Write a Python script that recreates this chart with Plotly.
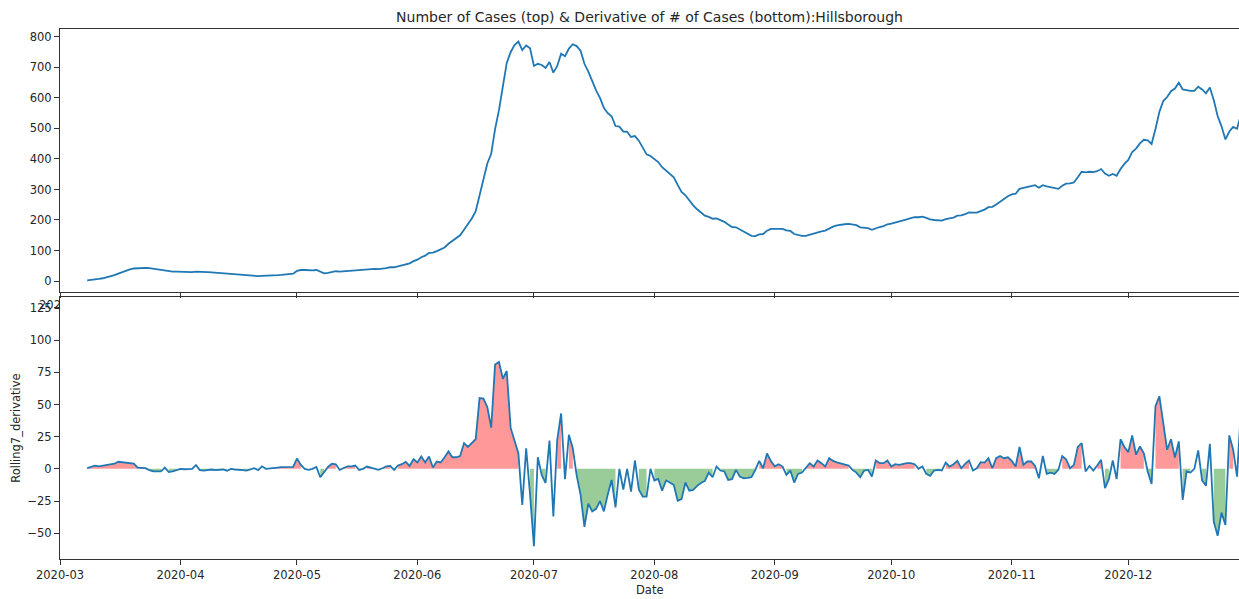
import pandas as pd
import plotly.graph_objects as go

# daily values from 2020-03-08 to 2020-12-30
cases_mar = [2, 3, 5, 7, 9, 12, 15, 19, 24, 29, 34, 38, 41, 42, 42, 43, 42, 40, 38, 36, 34, 33, 31, 31]
cases_apr = [30, 30, 29, 29, 31, 31, 30, 29, 28, 27, 26, 25, 24, 23, 22, 21, 20, 19, 17, 17,
             16, 17, 17, 18, 18, 19, 20, 21, 22, 24]
cases_may = [33, 36, 36, 35, 35, 36, 30, 25, 27, 30, 32, 31, 32, 34, 36, 37, 36, 37, 38, 39,
             40, 39, 40, 42, 45, 45, 48, 51, 55, 58, 65]
cases_jun = [70, 78, 83, 92, 93, 98, 103, 110, 122, 131, 140, 150, 168, 185, 205, 228, 283, 337, 385, 417,
             498, 560, 640, 715, 750, 773, 785, 757, 772, 763]
cases_jul = [705, 712, 708, 698, 718, 683, 705, 745, 737, 762, 776, 770, 755, 712, 686, 655, 625, 600, 568, 550,
             540, 508, 506, 490, 489, 472, 475, 460, 438, 415, 410]
cases_aug = [400, 390, 373, 363, 352, 340, 315, 292, 281, 264, 248, 235, 224, 214, 210, 204, 205, 199, 194, 185,
             177, 176, 169, 162, 155, 148, 147, 153, 154, 165, 171]
cases_sep = [171, 171, 171, 166, 164, 154, 151, 148, 148, 152, 154, 160, 163, 165, 172, 178, 182, 185, 186, 187,
             186, 183, 176, 175, 173, 168, 173, 177, 180, 186]
cases_oct = [188, 191, 194, 198, 202, 206, 209, 209, 211, 207, 202, 200, 199, 198, 203, 205, 208, 214, 215, 219,
             225, 224, 224, 229, 234, 242, 243, 251, 261, 269, 278]
cases_nov = [284, 286, 302, 305, 310, 313, 314, 306, 314, 310, 307, 303, 302, 312, 319, 320, 323, 340, 358, 356,
             358, 357, 360, 367, 352, 345, 351, 345, 367, 384]
cases_dec = [397, 423, 434, 451, 463, 461, 449, 498, 554, 590, 603, 622, 631, 650, 628, 626, 623, 623, 637, 628,
             615, 634, 593, 541, 507, 464, 490, 505, 499, 546]

deriv_mar = [0.5, 1.5, 2.5, 2, 2.5, 2.5, 3, 4, 5.5, 5, 5, 4.5, 4, 1, 0.5, 0.5, -1, -2, -2, -2, 1, -2.5, -2, -1]
deriv_apr = [0, -0.3, 0, 0, 3, -1, -1.3, -1, -0.5, -1, -0.5, -0.5, -1.5, 0, -0.5, -1, -1, -1.3, -0.5, 0.5,
             -1, 2, 0, 0.5, 1, 1, 1.3, 1.5, 1.3, 1.5]
deriv_may = [8, 3, 0, -0.8, 0, 1.5, -6.5, -2, 1.5, 4, 3.5, -0.8, 0.5, 2, 2, 2.6, -0.8, 0, 1.8, 1,
             0, -0.8, 0.5, 2, 2.3, -0.8, 2.6, 3.6, 5.5, 2.3, 7.5]
deriv_jun = [5, 9.6, 5, 9.6, 1, 5.7, 5, 9, 13.5, 9, 9, 10, 20, 17, 20, 23, 55, 54.5, 48, 32,
             81, 83, 70, 76, 32, 22, 12, -28, 16, -20]
deriv_jul = [-60, 9, -4.7, -11, 22, -37, 22.6, 43, -8, 26.5, 16, -5, -20, -45, -27, -33, -31, -25, -33, -20,
             -8.6, -30, 0, -16, 0, -17.7, 6.5, -16, -21.6, -21.6, 0]
deriv_aug = [-9, -7.8, -17, -9, -10.6, -12.5, -24.7, -23.4, -10.6, -17, -16.4, -13.2, -11, -9.4, -2.9, -6.5,
             1.8, -1.3, -2, -8.6, -8, -0.8, -6, -7.3, -7, -6.5, -0.8, 6.2, 0.5, 12, 6]
deriv_sep = [2, 3.6, 1.8, -4.7, -1.3, -10.6, -3.9, -2.9, 0.5, 4.4, 1.8, 6.5, 4.4, 1.8, 8.3, 6.2, 5, 4, 3, 2.6,
             -0.8, -2.9, -6.5, -1.3, -0.8, -6, 6.5, 4.4, 4.4, 6.5]
deriv_oct = [1.8, 3.6, 3.1, 3.9, 4.4, 4.4, 3.6, 0, 1.8, -3.9, -5.5, -1.3, -0.8, -1.3, 4.9, 1.8, 3.6, 6.2, 0.5,
             3.9, 6.5, -1.3, 0.5, 5.2, 4.9, 8.3, 0.5, 8.3, 10, 8.3, 9]
deriv_nov = [6.2, 1.8, 17, 3.1, 5.7, 5.7, 2.3, -7.3, 10, -3.9, -2.9, -3.9, -0.8, 10, 7.5, 0.5, 3.1, 17, 20, -2,
             2.3, -1.3, 2.6, 7, -15, -8, 6.5, -8, 23, 17]
deriv_dec = [13, 26, 11, 17.4, 12, -2, -11.7, 48.6, 56.4, 35.6, 14.8, 23, 8.8, 21.3, -24, -2, -2.9, 0, 14.3, -9,
             -13, 19.5, -41, -52, -34, -43.6, 26, 14.8, -6, 47]

cases = (cases_mar + cases_apr + cases_may + cases_jun + cases_jul + cases_aug
         + cases_sep + cases_oct + cases_nov + cases_dec)
deriv = (deriv_mar + deriv_apr + deriv_may + deriv_jun + deriv_jul + deriv_aug
         + deriv_sep + deriv_oct + deriv_nov + deriv_dec)
dates = pd.date_range("2020-03-08", periods=len(cases), freq="D")

BLUE = "#1f77b4"
AXIS = "#333333"
TEXT = "#262626"
X_RANGE = ["2020-03-01", "2020-12-29 12:00"]


def runs(values, keep):
    """Return lists of consecutive indices where keep(value) is true (like fill_between's where=)."""
    out, cur = [], []
    for i, v in enumerate(values):
        if keep(v):
            cur.append(i)
        elif cur:
            out.append(cur)
            cur = []
    if cur:
        out.append(cur)
    return out


fig = go.Figure()

# top: number of cases
fig.add_trace(go.Scatter(x=dates, y=cases, mode="lines", line=dict(color=BLUE, width=1.8),
                         xaxis="x", yaxis="y", showlegend=False))

# bottom: red fill where rising, green where falling, each stretch on its own
for keep, colour in [(lambda v: v > 0, "rgba(255,0,0,0.4)"), (lambda v: v < 0, "rgba(0,128,0,0.4)")]:
    for idx in runs(deriv, keep):
        if len(idx) < 2:
            continue
        fig.add_trace(go.Scatter(x=[dates[i] for i in idx], y=[deriv[i] for i in idx],
                                 mode="lines", fill="tozeroy", fillcolor=colour,
                                 line=dict(width=0), hoverinfo="skip",
                                 xaxis="x2", yaxis="y2", showlegend=False))

fig.add_trace(go.Scatter(x=dates, y=deriv, mode="lines", line=dict(color=BLUE, width=1.8),
                         xaxis="x2", yaxis="y2", showlegend=False))

axis_common = dict(showgrid=False, zeroline=False, showline=True, linecolor=AXIS, linewidth=1,
                   ticks="outside", ticklen=5, tickwidth=1, tickcolor=AXIS)

fig.update_layout(
    width=1239, height=599,
    margin=dict(l=60, r=0, t=29, b=40),
    paper_bgcolor="white", plot_bgcolor="white",
    font=dict(family="DejaVu Sans", size=11.5, color=TEXT),
    title=dict(text="Number of Cases (top) & Derivative of # of Cases (bottom):Hillsborough",
               x=0.5, xref="paper", y=1 - 17 / 599, yref="container", yanchor="middle",
               font=dict(size=14, color=TEXT)),
    xaxis=dict(domain=[0, 1], anchor="y", range=X_RANGE, mirror=True, showticklabels=False,
               dtick="M1", tick0="2020-03-01", **axis_common),
    yaxis=dict(domain=[0.5038, 1], anchor="x", range=[-36, 826], dtick=100, **axis_common),
    xaxis2=dict(domain=[0, 1], anchor="y2", range=X_RANGE, mirror=True, tickformat="%Y-%m",
                dtick="M1", tick0="2020-03-01", **axis_common),
    yaxis2=dict(domain=[0, 0.4949], anchor="x2", range=[-70, 133.7], dtick=25, **axis_common),
    annotations=[
        dict(text="Rolling7_derivative", x=-44 / 1179, y=0.2475, xref="paper", yref="paper",
             textangle=-90, showarrow=False, xanchor="center", yanchor="middle",
             font=dict(size=11.5, color=TEXT)),
        dict(text="Date", x=0.5, y=-0.0585, xref="paper", yref="paper", showarrow=False,
             xanchor="center", yanchor="middle", font=dict(size=11.5, color=TEXT)),
        # top panel's first date label peeking out from under the lower panel
        dict(text="202", x=-23 / 1179, y=0.4792, xref="paper", yref="paper", showarrow=False,
             xanchor="left", yanchor="middle", font=dict(size=11.5, color=TEXT)),
    ],
)

# the page's default body margin would push the figure 8px right and down
fig.write_html("out.html", config={"displayModeBar": False},
               post_script="document.body.style.margin = '0';")
